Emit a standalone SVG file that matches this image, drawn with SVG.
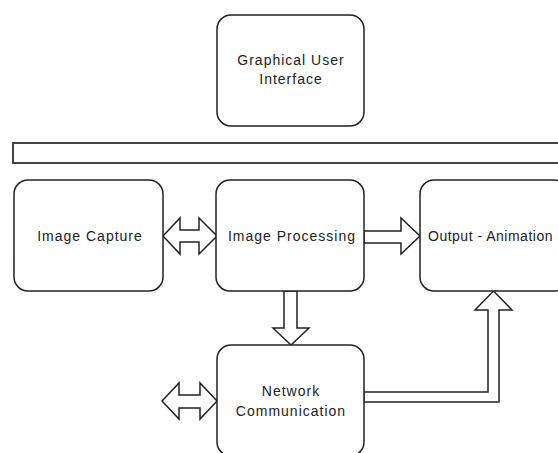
<svg xmlns="http://www.w3.org/2000/svg" width="558" height="453" viewBox="0 0 558 453">
<style>
.box{fill:#fff;stroke:#222;stroke-width:1.5}
.arr{fill:#fff;stroke:#222;stroke-width:1.5;stroke-linejoin:miter}
text{font-family:"Liberation Sans",Arial,sans-serif;font-size:14px;letter-spacing:1px;fill:#222;text-anchor:middle}
</style>
<rect width="558" height="453" fill="#fff"/>
<g id="connectors">
<polygon class="arr" points="163,236 180,218 180,230 199,230 199,218 217,236 199,254 199,242 180,242 180,254"/>
<polygon class="arr" points="364,231 401,231 401,218 420,236 401,254 401,243 364,243"/>
<polygon class="arr" points="284,291 284,328 273,328 291,345 309,328 297,328 297,291"/>
<polygon class="arr" points="162,401 179,383 179,395 200,395 200,383 217,401 200,419 200,408 179,408 179,419"/>
<polygon class="arr" points="364,392 488,392 488,310 475,310 493.5,291 512,310 499,310 499,402 364,402"/>
</g>
<g id="gui">
<rect class="box" x="217" y="15" width="147" height="111" rx="14"/>
<text x="291" y="65">Graphical User</text>
<text x="291" y="84">Interface</text>
</g>
<g id="bar">
<rect x="13" y="143" width="560" height="20" fill="#fff" stroke="#444" stroke-width="2"/>
</g>
<g id="capture">
<rect class="box" x="14" y="180" width="149" height="111" rx="14"/>
<text x="90" y="241">Image Capture</text>
</g>
<g id="processing">
<rect class="box" x="216" y="180" width="148" height="111" rx="14"/>
<text x="292" y="241">Image Processing</text>
</g>
<g id="output">
<rect class="box" x="420" y="180" width="148" height="111" rx="14"/>
<text x="428" y="241" style="text-anchor:start;letter-spacing:0.5px">Output - Animation</text>
</g>
<g id="network">
<rect class="box" x="217" y="345" width="147" height="111" rx="14"/>
<text x="291" y="396">Network</text>
<text x="291" y="416">Communication</text>
</g>
</svg>
